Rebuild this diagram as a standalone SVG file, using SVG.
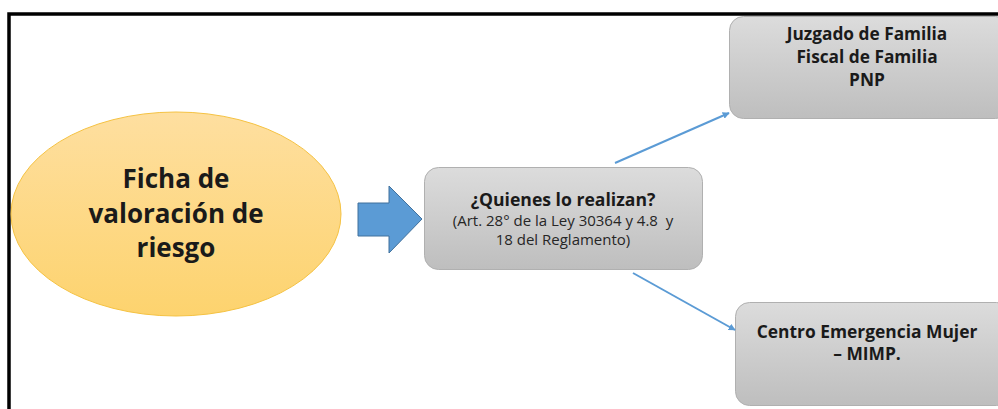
<svg xmlns="http://www.w3.org/2000/svg" width="998" height="409" viewBox="0 0 998 409">
<defs>
<linearGradient id="gOrange" x1="0" y1="0" x2="0" y2="1">
<stop offset="0" stop-color="#FEDFA0"/>
<stop offset="1" stop-color="#FDD36E"/>
</linearGradient>
<linearGradient id="gGray" x1="0" y1="0" x2="0" y2="1">
<stop offset="0" stop-color="#DCDCDC"/>
<stop offset="1" stop-color="#BEBEBE"/>
</linearGradient>
<marker id="ah" viewBox="0 0 10 10" refX="9" refY="5" markerWidth="7" markerHeight="7" markerUnits="userSpaceOnUse" orient="auto">
<path d="M0,0 L10,5 L0,10 z" fill="#5B9BD5"/>
</marker>
<style>
.t{font-family:"Open Sans","Liberation Sans",sans-serif;font-weight:bold;fill:#1a1a1a;text-anchor:middle}
.s{font-family:"Open Sans","Liberation Sans",sans-serif;fill:#262626;text-anchor:middle}
.box{fill:url(#gGray);stroke:#B0B0B0;stroke-width:1}
.conn{stroke:#5B9BD5;stroke-width:2;fill:none;marker-end:url(#ah)}
</style>
</defs>
<rect x="0" y="0" width="998" height="409" fill="#fff"/>
<path d="M9,420 L9,14 L1000,14" fill="none" stroke="#000" stroke-width="3.5"/>
<g id="node-ficha">
<ellipse cx="176" cy="214" rx="165" ry="102" fill="url(#gOrange)" stroke="#F5C242" stroke-width="1"/>
<text class="t" x="176" y="188" font-size="26">Ficha de</text>
<text class="t" x="176" y="223" font-size="26">valoración de</text>
<text class="t" x="176" y="257" font-size="26">riesgo</text>
</g>
<g id="node-bigarrow">
<path d="M358,203 L389,203 L389,186 L422,219 L389,253 L389,236 L358,236 Z" fill="#5B9BD5" stroke="#41719C" stroke-width="1"/>
</g>
<g id="node-quienes">
<rect class="box" x="424.5" y="167.5" width="278" height="102" rx="14"/>
<text class="t" x="563" y="206" font-size="17.6">¿Quienes lo realizan?</text>
<text class="s" x="563" y="226" font-size="15" xml:space="preserve">(Art. 28° de la Ley 30364 y 4.8  y</text>
<text class="s" x="563" y="245" font-size="15">18 del Reglamento)</text>
</g>
<g id="node-juzgado">
<rect class="box" x="729.5" y="16.5" width="280" height="102" rx="14"/>
<text class="t" x="867" y="40" font-size="17.3">Juzgado de Familia</text>
<text class="t" x="867" y="63" font-size="17.3">Fiscal de Familia</text>
<text class="t" x="867" y="86" font-size="17.3">PNP</text>
</g>
<g id="node-centro">
<rect class="box" x="735.5" y="302.5" width="275" height="103" rx="14"/>
<text class="t" x="867" y="338" font-size="17.4">Centro Emergencia Mujer</text>
<text class="t" x="867" y="360" font-size="17.4">– MIMP.</text>
</g>
<g id="connectors">
<line class="conn" x1="615" y1="163" x2="729" y2="113"/>
<line class="conn" x1="633" y1="273" x2="735" y2="330"/>
</g>
</svg>
